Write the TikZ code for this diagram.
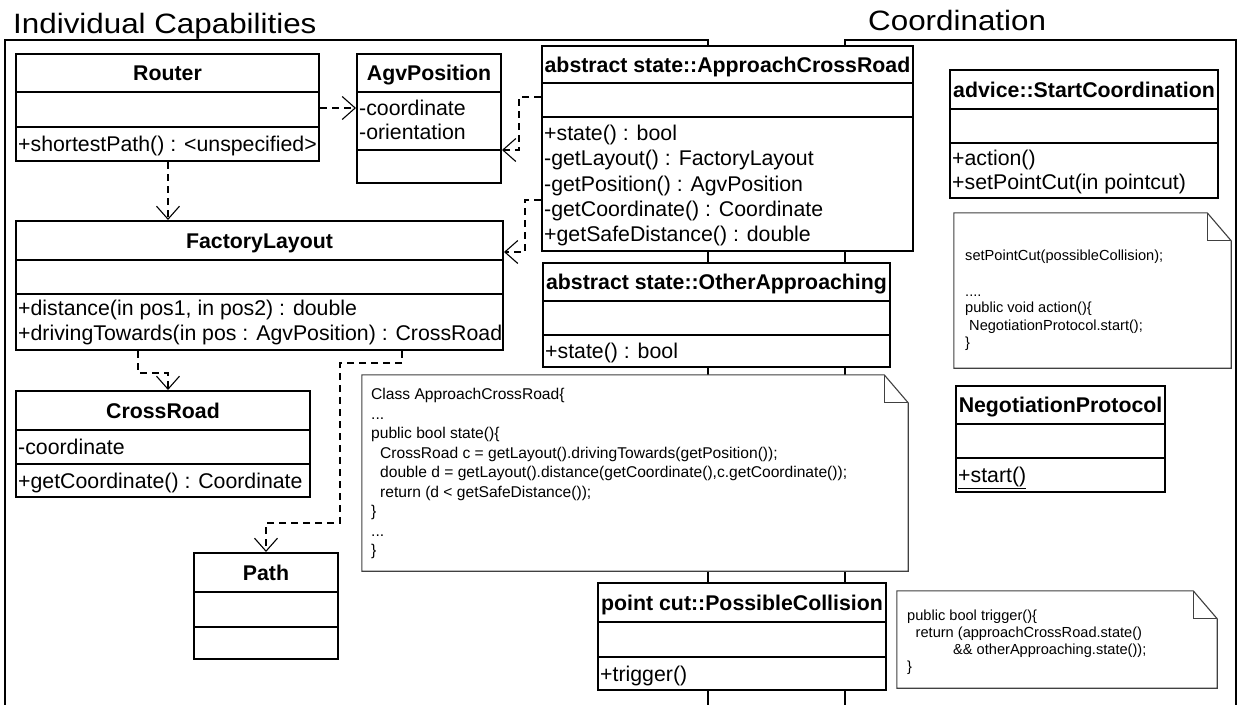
\documentclass[tikz,border=0pt]{standalone}
\usepackage{fontspec}
\setmainfont{Liberation Sans}
\newfontfamily\headfont{Liberation Sans}[FakeStretch=1.12]
\usetikzlibrary{arrows.meta}

\newcommand\classfont{\fontsize{21.3}{25}\selectfont}
\newcommand\notesize{\fontsize{15.6}{19}\selectfont}
\newcommand\smallnotesize{\fontsize{14.6}{18}\selectfont}
\newcommand\headsize{\headfont\fontsize{28}{33}\selectfont}

% class box: name, x1, y1, x2, y2, first divider, second divider
\newcommand\umlclass[7]{%
  \node[classframe, minimum width={#4-#2}, minimum height={#5-#3}] (#1) at ({(#2+#4)/2},{(#3+#5)/2}) {};
  \draw[classline] (#2,#6) -- (#4,#6) (#2,#7) -- (#4,#7);
}
% note with folded corner: name, x1, y1, x2, y2
\newcommand\umlnote[5]{%
  \node[inner sep=0pt, minimum width={#4-#2}, minimum height={#5-#3}] (#1) at ({(#2+#4)/2},{(#3+#5)/2}) {};
  \draw[notebox] (#1.north west) -- ([xshift=-24pt]#1.north east) -- ([yshift=-28pt]#1.north east)
     -- (#1.south east) -- (#1.south west) -- cycle;
  \draw[notebox, fill=none] ([xshift=-24pt]#1.north east) -- ([xshift=-24pt,yshift=-28pt]#1.north east)
     -- ([yshift=-28pt]#1.north east);
}

\tikzset{
  classframe/.style={draw, rectangle, line width=2pt, fill=white, inner sep=0pt},
  classline/.style={line width=2pt},
  titletext/.style={font=\classfont\bfseries, anchor=base, inner sep=0pt},
  optext/.style={font=\classfont, anchor=base west, inner sep=0pt},
  notetext/.style={font=\notesize, anchor=base west, inner sep=0pt},
  smallnotetext/.style={font=\smallnotesize, anchor=base west, inner sep=0pt},
  headtext/.style={font=\headsize, anchor=base west, inner sep=0pt},
  notebox/.style={draw=black!75, line width=1.1pt, fill=white, line join=miter},
  pkg/.style={line width=2pt},
  dep/.style={line width=1.1pt, dash pattern=on 7pt off 5pt,
    -{Straight Barb[length=13pt, width=23pt, line width=1.1pt]}},
}

\begin{document}
\begin{tikzpicture}[x=1pt, y=-1pt]
\clip (0,0) rectangle (1238,704);
\fill[white] (0,0) rectangle (1238,704);

% package frames and their names
\draw[pkg] (5,712) -- (5,40) -- (708,40) -- (708,712);
\draw[pkg] (845,712) -- (845,40) -- (1236,40) -- (1236,712);
\node[headtext] (cap-h) at (13,33) {Individual Capabilities};
\node[headtext] (coord-h) at (868,30.5) {Coordination};

% classes
\umlclass{router}{16}{54}{319}{161}{92}{127}
\umlclass{agv}{357}{54}{501}{183}{92}{150}
\umlclass{acr}{542}{46}{913}{251}{83}{117}
\umlclass{sc}{950}{70}{1218}{198}{109}{143}
\umlclass{fl}{16}{221}{503}{350}{260}{294}
\umlclass{oa}{543}{263}{890}{367}{301}{335}
\umlclass{cr}{16}{391}{310}{497}{430}{464}
\umlclass{np}{956}{386}{1165}{492}{424}{458}
\umlclass{pathcls}{194}{553}{338}{659}{592}{627}
\umlclass{poc}{598}{583}{886}{690}{622}{657}

% class names
\node[titletext] (router-t) at (167.5,80.6) {Router};
\node[titletext] (agv-t) at (429,80.6) {AgvPosition};
\node[titletext] (acr-t) at (727.5,72.1) {abstract state::ApproachCrossRoad};
\node[titletext] (sc-t) at (1084,97.1) {advice::StartCoordination};
\node[titletext] (fl-t) at (259.5,248.1) {FactoryLayout};
\node[titletext] (oa-t) at (716.5,289.6) {abstract state::OtherApproaching};
\node[titletext] (cr-t) at (163,418.1) {CrossRoad};
\node[titletext] (np-t) at (1060.5,412.6) {NegotiationProtocol};
\node[titletext] (pathcls-t) at (266,580.1) {Path};
\node[titletext] (poc-t) at (742,610.1) {point cut::PossibleCollision};

% attributes and operations
\node[optext] (router-o) at (18,151.6) {+shortestPath() : <unspecified>};
\node[optext] (agv-a1) at (359,115.6) {-coordinate};
\node[optext] (agv-a2) at (359,139.6) {-orientation};
\node[optext] (acr-o0) at (544,140.6) {+state() : bool};
\node[optext] (acr-o1) at (544,165.8) {-getLayout() : FactoryLayout};
\node[optext] (acr-o2) at (544,191.0) {-getPosition() : AgvPosition};
\node[optext] (acr-o3) at (544,216.2) {-getCoordinate() : Coordinate};
\node[optext] (acr-o4) at (544,241.4) {+getSafeDistance() : double};
\node[optext] (sc-o1) at (952,165.6) {+action()};
\node[optext] (sc-o2) at (952,189.6) {+setPointCut(in pointcut)};
\node[optext] (fl-o1) at (18,315.6) {+distance(in pos1, in pos2) : double};
\node[optext] (fl-o2) at (18,340.6) {+drivingTowards(in pos : AgvPosition) : CrossRoad};
\node[optext] (oa-o) at (545,358.6) {+state() : bool};
\node[optext] (cr-a) at (18,454.6) {-coordinate};
\node[optext] (cr-o) at (18,488) {+getCoordinate() : Coordinate};
\node[optext] (np-o) at (958,482.6) {\underline{+start()}};
\node[optext] (poc-o) at (600,681) {+trigger()};

% notes
\umlnote{n1}{362}{375}{908}{571}
\umlnote{n2}{954}{213}{1231}{368}
\umlnote{n3}{897}{591}{1217}{688}

\node[notetext] (n1-l0) at (371,399.7) {Class ApproachCrossRoad\{};
\node[notetext] (n1-l1) at (371,419.2) {...};
\node[notetext] (n1-l2) at (371,438.7) {public bool state()\{};
\node[notetext] (n1-l3) at (371,458.2) {\hspace*{9pt}CrossRoad c = getLayout().drivingTowards(getPosition());};
\node[notetext] (n1-l4) at (371,477.7) {\hspace*{9pt}double d = getLayout().distance(getCoordinate(),c.getCoordinate());};
\node[notetext] (n1-l5) at (371,497.2) {\hspace*{9pt}return (d < getSafeDistance());};
\node[notetext] (n1-l6) at (371,516.7) {\}};
\node[notetext] (n1-l7) at (371,536.2) {...};
\node[notetext] (n1-l8) at (371,555.7) {\}};

\node[smallnotetext] (n2-l1) at (965,260) {setPointCut(possibleCollision);};
\node[smallnotetext] (n2-l2) at (965,296.5) {....};
\node[smallnotetext] (n2-l3) at (965,312) {public void action()\{};
\node[smallnotetext] (n2-l4) at (965,330) {\hspace*{4pt}NegotiationProtocol.start();};
\node[smallnotetext] (n2-l5) at (965,347.5) {\}};

\node[smallnotetext] (n3-l1) at (907,620.7) {public bool trigger()\{};
\node[smallnotetext] (n3-l2) at (907,637.7) {\hspace*{8.5pt}return (approachCrossRoad.state()};
\node[smallnotetext] (n3-l3) at (907,654.7) {\hspace*{46pt}\&\& otherApproaching.state());};
\node[smallnotetext] (n3-l4) at (907,671.7) {\}};

% dependencies
\draw[dep] (router.east |- 0,108) -- (agv.west |- 0,108);
\draw[dep] (router.south -| 168,0) -- (fl.north -| 168,0);
\draw[dep] (acr.west |- 0,97) -- (519,97) -- (519,150) -- (agv.east |- 0,150);
\draw[dep] (acr.west |- 0,200) -- (525,200) -- (525,252) -- (fl.east |- 0,252);
\draw[dep] (fl.south -| 138,0) -- (138,373) -- (168,373) -- (cr.north -| 168,0);
\draw[dep] (fl.south -| 402,0) -- (402,363) -- (340,363) -- (340,523) -- (266,523) -- (pathcls.north -| 266,0);
\end{tikzpicture}
\end{document}
